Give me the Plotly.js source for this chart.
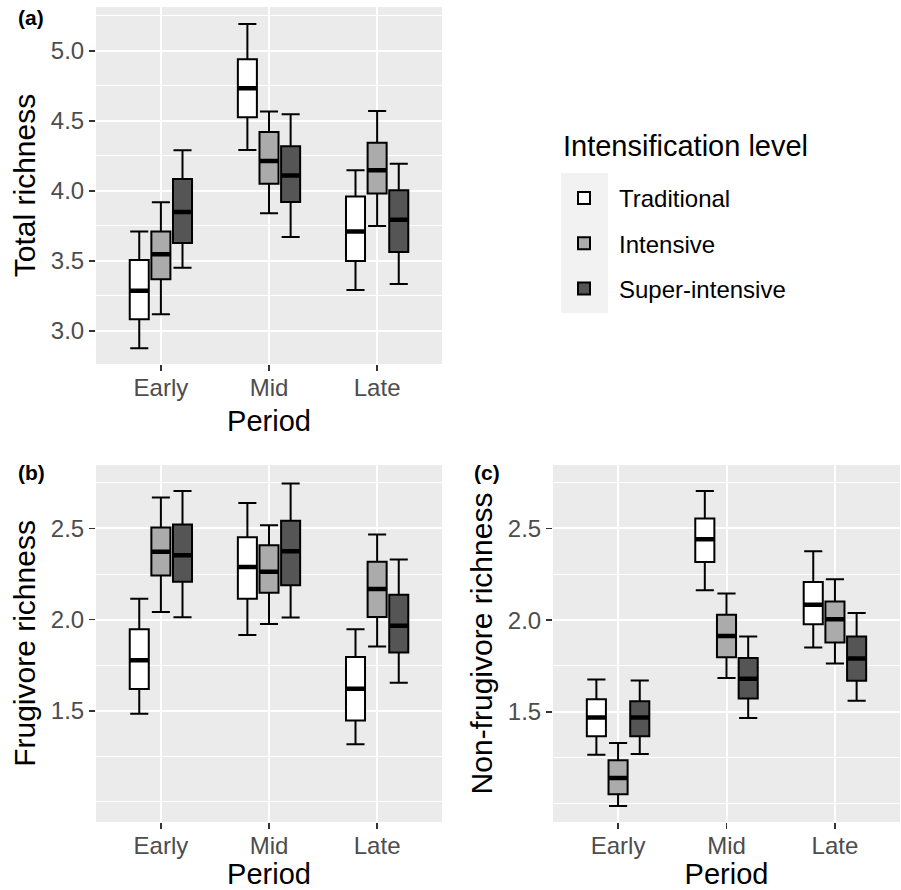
<!DOCTYPE html>
<html>
<head>
<meta charset="utf-8">
<script src="https://cdn.plot.ly/plotly-3.0.1.min.js"></script>
<style>html,body{margin:0;padding:0;background:#fff;}#chart{width:901px;height:890px;}</style>
</head>
<body>
<div id="chart"></div>
<script>
// Categories
const periods = ['Early', 'Mid', 'Late'];
const levels = ['Traditional', 'Intensive', 'Super-intensive'];
const legendTitle = 'Intensification level';
const panelLabels = ['(a)', '(b)', '(c)'];
const yTitles = ['Total richness', 'Frugivore richness', 'Non-frugivore richness'];
const xTitle = 'Period';

// Panel (a) Total richness: whisker low, Q1, median, Q3, whisker high (per period)
const total_traditional = {lo: [2.876, 4.293, 3.293], q1: [3.083, 4.526, 3.500], med: [3.288, 4.733, 3.710], q3: [3.507, 4.940, 3.960], hi: [3.710, 5.193, 4.148]};
const total_intensive   = {lo: [3.119, 3.840, 3.750], q1: [3.369, 4.052, 3.981], med: [3.548, 4.214, 4.148], q3: [3.710, 4.421, 4.345], hi: [3.919, 4.567, 4.571]};
const total_super       = {lo: [3.452, 3.671, 3.336], q1: [3.629, 3.921, 3.564], med: [3.850, 4.110, 3.795], q3: [4.086, 4.319, 4.005], hi: [4.290, 4.548, 4.195]};

// Panel (b) Frugivore richness
const frug_traditional = {lo: [1.484, 1.916, 1.317], q1: [1.619, 2.114, 1.447], med: [1.777, 2.289, 1.621], q3: [1.947, 2.452, 1.795], hi: [2.114, 2.639, 1.947]};
const frug_intensive   = {lo: [2.042, 1.976, 1.852], q1: [2.242, 2.147, 2.015], med: [2.372, 2.262, 2.168], q3: [2.505, 2.408, 2.317], hi: [2.670, 2.518, 2.467]};
const frug_super       = {lo: [2.013, 2.011, 1.654], q1: [2.207, 2.189, 1.819], med: [2.353, 2.375, 1.967], q3: [2.522, 2.542, 2.137], hi: [2.705, 2.747, 2.330]};

// Panel (c) Non-frugivore richness
const nonfrug_traditional = {lo: [1.267, 2.162, 1.851], q1: [1.367, 2.316, 1.978], med: [1.469, 2.440, 2.084], q3: [1.569, 2.553, 2.207], hi: [1.676, 2.704, 2.375]};
const nonfrug_intensive   = {lo: [0.987, 1.684, 1.764], q1: [1.051, 1.798, 1.878], med: [1.140, 1.913, 2.004], q3: [1.236, 2.029, 2.102], hi: [1.331, 2.145, 2.222]};
const nonfrug_super       = {lo: [1.271, 1.467, 1.560], q1: [1.367, 1.573, 1.669], med: [1.469, 1.680, 1.791], q3: [1.558, 1.793, 1.911], hi: [1.671, 1.911, 2.038]};

const yTickVals = [[3.0, 3.5, 4.0, 4.5, 5.0], [1.5, 2.0, 2.5], [1.5, 2.0, 2.5]];
const yRanges = [[2.764, 5.314], [0.89, 2.848], [0.9, 2.845]];

const panels = [
  [total_traditional, total_intensive, total_super],
  [frug_traditional, frug_intensive, frug_super],
  [nonfrug_traditional, nonfrug_intensive, nonfrug_super]
];

const fills = ['#FFFFFF', '#ABABAB', '#555555'];
const FONT = 'Liberation Sans, Arial, sans-serif';
const axisSuffix = ['', '2', '3'];

const traces = [];
panels.forEach((series, p) => {
  series.forEach((s, k) => {
    traces.push({
      type: 'box', name: levels[k], x: periods,
      q1: s.q1, median: s.med, q3: s.q3, lowerfence: s.lo, upperfence: s.hi,
      xaxis: 'x' + axisSuffix[p], yaxis: 'y' + axisSuffix[p],
      offsetgroup: 'g' + k, legendgroup: 'lg' + k,
      showlegend: p === 0, boxpoints: false,
      fillcolor: fills[k], line: {color: '#000000', width: 2},
      whiskerwidth: 0.95, hoverinfo: 'skip'
    });
  });
  // thick median bars
  series.forEach((s, k) => {
    traces.push({
      type: 'box', name: levels[k] + ' median', x: periods,
      q1: s.med, median: s.med, q3: s.med, lowerfence: s.med, upperfence: s.med,
      xaxis: 'x' + axisSuffix[p], yaxis: 'y' + axisSuffix[p],
      offsetgroup: 'g' + k, showlegend: false, boxpoints: false,
      fillcolor: 'rgba(0,0,0,0)', line: {color: '#000000', width: 4.5},
      whiskerwidth: 0, hoverinfo: 'skip'
    });
  });
});

const xDomains = [[96/901, 442/901], [96/901, 442/901], [553/901, 900/901]];
const yDomains = [[1 - 364/890, 1 - 7/890], [1 - 822/890, 1 - 465/890], [1 - 822/890, 1 - 465/890]];

const layout = {
  width: 901, height: 890,
  margin: {l: 0, r: 0, t: 0, b: 0},
  paper_bgcolor: '#FFFFFF', plot_bgcolor: '#EBEBEB',
  font: {family: FONT, color: '#000000'},
  boxmode: 'group', boxgap: 0.4, boxgroupgap: 0.12,
  showlegend: true,
  legend: {
    x: 549 / 901, y: 1 - 176 / 890, xanchor: 'left', yanchor: 'top',
    bgcolor: 'rgba(0,0,0,0)', traceorder: 'grouped', tracegroupgap: 11,
    itemwidth: 60,
    font: {size: 24, color: '#000000', family: FONT}
  },
  annotations: [{
    text: legendTitle, xref: 'paper', yref: 'paper',
    x: 561 / 901, y: 1 - 146 / 890, xanchor: 'left', yanchor: 'middle',
    showarrow: false, font: {size: 29, color: '#000000', family: FONT}
  }],
  shapes: [{
    type: 'rect', xref: 'paper', yref: 'paper', layer: 'below',
    x0: 561 / 901, x1: 608 / 901, y0: 1 - 313 / 890, y1: 1 - 173 / 890,
    fillcolor: '#F2F2F2', line: {width: 0}
  }]
};

for (let p = 0; p < 3; p++) {
  const s = axisSuffix[p];
  layout['xaxis' + s] = {
    domain: xDomains[p], anchor: 'y' + s, type: 'category',
    categoryorder: 'array', categoryarray: periods, range: [-0.6, 2.6],
    showgrid: true, gridcolor: '#FFFFFF', gridwidth: 2, zeroline: false, showline: false,
    ticks: 'outside', ticklen: 6, tickwidth: 1.5, tickcolor: '#333333',
    ticklabelstandoff: -4,
    tickfont: {size: 24, color: '#4D4D4D', family: FONT},
    title: {text: xTitle, font: {size: 29, color: '#000000', family: FONT}, standoff: 10},
    automargin: false, fixedrange: true
  };
  layout['yaxis' + s] = {
    domain: yDomains[p], anchor: 'x' + s, range: yRanges[p],
    tickmode: 'array', tickvals: yTickVals[p], ticktext: yTickVals[p].map(v => v.toFixed(1)),
    showgrid: true, gridcolor: '#FFFFFF', gridwidth: 2, zeroline: false, showline: false,
    ticks: 'outside', ticklen: 6, tickwidth: 1.5, tickcolor: '#333333',
    tickfont: {size: 24, color: '#4D4D4D', family: FONT},
    minor: {tickmode: 'linear', tick0: 0, dtick: 0.25, showgrid: true, gridcolor: '#FFFFFF', gridwidth: 1, ticks: ''},
    title: {text: yTitles[p], font: {size: 30, color: '#000000', family: FONT}, standoff: 6},
    automargin: false, fixedrange: true
  };
}

const labelPos = [[16, 18], [16, 472], [472, 472]];
panelLabels.forEach((t, i) => {
  layout.annotations.push({
    text: '<b>' + t + '</b>', xref: 'paper', yref: 'paper',
    x: labelPos[i][0] / 901, y: 1 - labelPos[i][1] / 890, xanchor: 'left', yanchor: 'middle',
    showarrow: false, font: {size: 21, color: '#000000', family: FONT}
  });
});

Plotly.newPlot('chart', traces, layout, {staticPlot: true, displayModeBar: false});
</script>
</body>
</html>
